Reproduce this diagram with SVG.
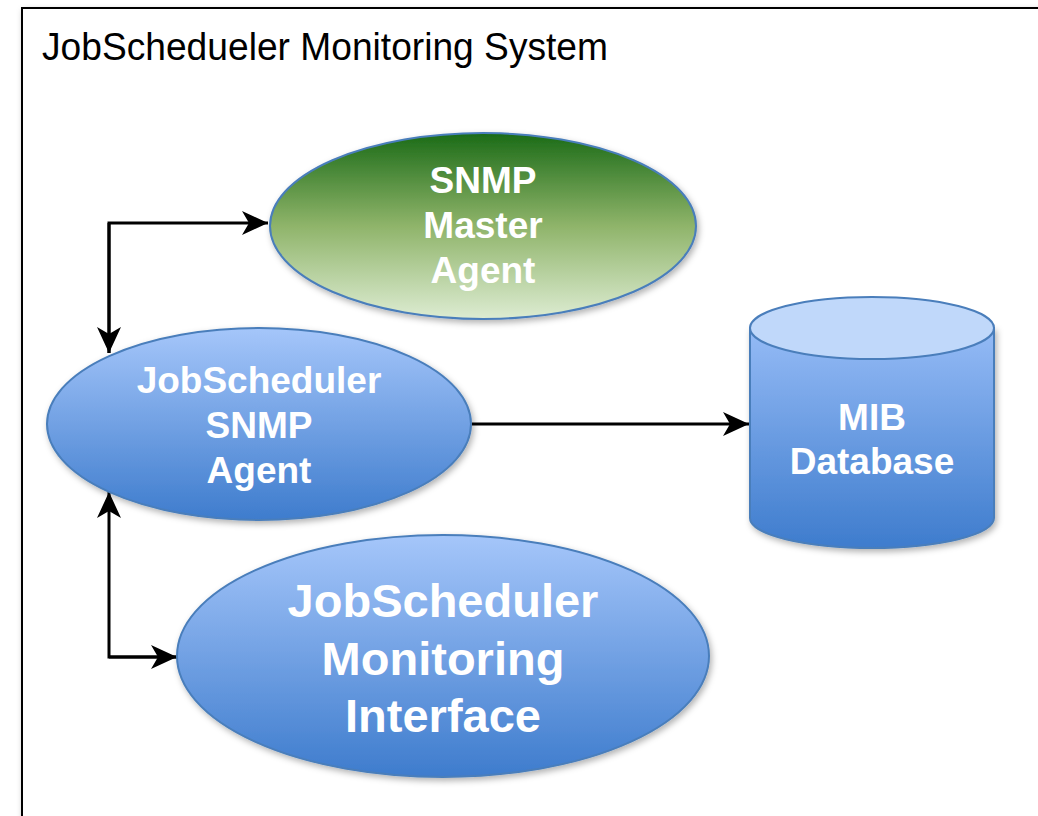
<svg xmlns="http://www.w3.org/2000/svg" width="1038" height="816" viewBox="0 0 1038 816">
<defs>
<linearGradient id="gGreen" x1="0" y1="0" x2="0" y2="1">
<stop offset="0" stop-color="#1b6b17"/>
<stop offset="0.5" stop-color="#8fb46a"/>
<stop offset="1" stop-color="#ddecd2"/>
</linearGradient>
<linearGradient id="gBlue" x1="0" y1="0" x2="0" y2="1">
<stop offset="0" stop-color="#a5c6fa"/>
<stop offset="1" stop-color="#3e7ccd"/>
</linearGradient>
<linearGradient id="gCyl" x1="0" y1="0" x2="0" y2="1">
<stop offset="0" stop-color="#95bbf6"/>
<stop offset="1" stop-color="#3e7ccd"/>
</linearGradient>
<filter id="sh" x="-10%" y="-10%" width="125%" height="130%">
<feDropShadow dx="2" dy="3" stdDeviation="3" flood-color="#000" flood-opacity="0.3"/>
</filter>
<marker id="arr" viewBox="0 0 26 24" refX="26" refY="12" markerWidth="26" markerHeight="24" markerUnits="userSpaceOnUse" orient="auto">
<path d="M26,12 L0,0 L7,12 L0,24 Z" fill="#000"/>
</marker>
<style>
.lbl{font-family:"Liberation Sans",Arial,sans-serif;font-weight:bold;fill:#fff;text-anchor:middle}
.shape{stroke:#4a7ebb;stroke-width:2}
.conn{fill:none;stroke:#000;stroke-width:3}
</style>
</defs>
<rect x="22" y="8" width="1100" height="900" fill="#fff" stroke="#000" stroke-width="2" filter="url(#sh)"/>
<text x="42" y="60" font-family="Liberation Sans, Arial, sans-serif" font-size="38" textLength="566" lengthAdjust="spacingAndGlyphs" fill="#000">JobSchedueler Monitoring System</text>

<g id="connectors">
<path class="conn" d="M109,353 L109,223 L268,223" marker-end="url(#arr)"/>
<path class="conn" d="M109,223 L109,353" marker-end="url(#arr)"/>
<path class="conn" d="M472,424 L749,424" marker-end="url(#arr)"/>
<path class="conn" d="M177,657 L109,657 L109,492" marker-end="url(#arr)"/>
<path class="conn" d="M109,657 L177,657" marker-end="url(#arr)"/>
</g>

<g id="snmp-master-agent">
<ellipse class="shape" cx="483" cy="226" rx="213" ry="93" fill="url(#gGreen)" filter="url(#sh)"/>
<text class="lbl" font-size="37" x="483" y="193">SNMP</text>
<text class="lbl" font-size="37" x="483" y="238">Master</text>
<text class="lbl" font-size="37" x="483" y="283">Agent</text>
</g>

<g id="jobscheduler-snmp-agent">
<ellipse class="shape" cx="259" cy="424" rx="212" ry="96" fill="url(#gBlue)" filter="url(#sh)"/>
<text class="lbl" font-size="37" x="259" y="393">JobScheduler</text>
<text class="lbl" font-size="37" x="259" y="438">SNMP</text>
<text class="lbl" font-size="37" x="259" y="483">Agent</text>
</g>

<g id="mib-database">
<path class="shape" d="M750,328 L750,518 A122,30 0 0 0 994,518 L994,328 Z" fill="url(#gCyl)" filter="url(#sh)"/>
<ellipse class="shape" cx="872" cy="328" rx="122" ry="31" fill="#c0d8fa"/>
<text class="lbl" font-size="37" x="872" y="430">MIB</text>
<text class="lbl" font-size="37" x="872" y="474">Database</text>
</g>

<g id="jobscheduler-monitoring-interface">
<ellipse class="shape" cx="443" cy="656" rx="266" ry="121" fill="url(#gBlue)" filter="url(#sh)"/>
<text class="lbl" font-size="47" x="443" y="617">JobScheduler</text>
<text class="lbl" font-size="47" x="443" y="675">Monitoring</text>
<text class="lbl" font-size="47" x="443" y="732">Interface</text>
</g>
</svg>
